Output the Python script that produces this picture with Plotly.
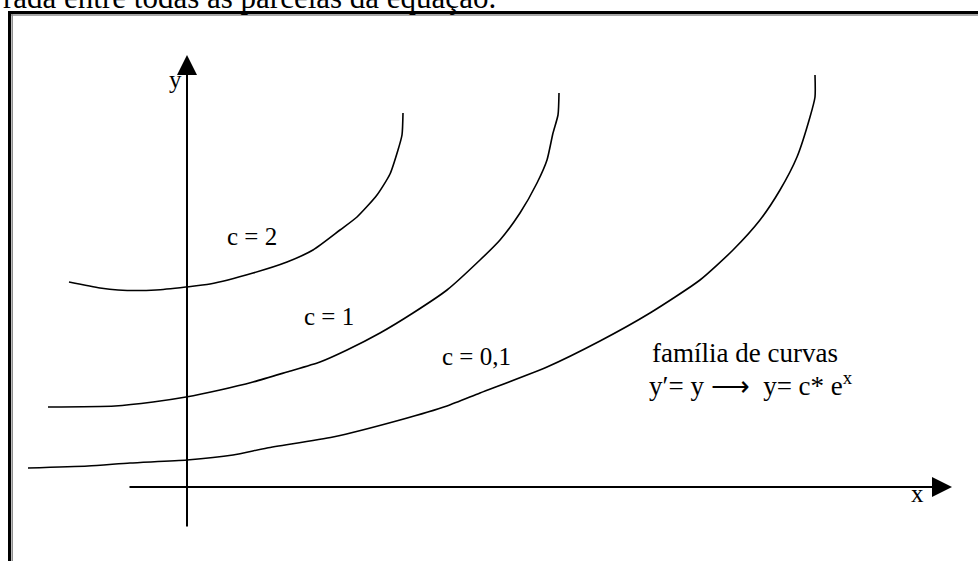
import plotly.graph_objects as go

# ---- data (math units; origin at the axes crossing) ----
c2_x = [-2.36, -1.74, -1.38, -0.62, -0.02, 0.46, 1.32, 2.00, 2.52, 3.06, 3.40, 3.80, 4.06, 4.22, 4.30, 4.32]
c2_y = [4.10, 3.98, 3.94, 3.94, 4.00, 4.06, 4.28, 4.50, 4.74, 5.14, 5.40, 5.84, 6.26, 6.74, 7.04, 7.48]

c1_x = [-2.78, -1.44, -0.68, -0.02, 0.66, 1.32, 2.00, 2.66, 3.20, 3.86, 4.52, 5.20, 5.86, 6.26, 6.66, 7.00, 7.20, 7.32, 7.42, 7.44]
c1_y = [1.60, 1.62, 1.70, 1.80, 1.94, 2.10, 2.30, 2.50, 2.74, 3.08, 3.48, 3.94, 4.54, 4.94, 5.48, 6.08, 6.54, 7.08, 7.44, 7.88]

c01_x = [-3.18, -1.98, -1.14, 0.00, 0.92, 1.60, 2.92, 4.26, 5.20, 5.86, 7.20, 8.26, 9.26, 10.26, 10.92, 11.46, 11.86, 12.20, 12.46, 12.56, 12.56]
c01_y = [0.38, 0.42, 0.48, 0.54, 0.64, 0.78, 1.00, 1.34, 1.62, 1.88, 2.40, 2.92, 3.48, 4.14, 4.74, 5.34, 5.94, 6.60, 7.40, 7.80, 8.24]

x_axis_span = [-1.18, 15.30]   # start, arrow tip
y_axis_span = [-0.82, 8.64]    # start, arrow tip

curve_labels = ["c = 2", "c = 1", "c = 0,1"]
label_x = [1.30, 2.83, 5.79]
label_y = [5.01, 3.41, 2.62]

caption_lines = ["família de curvas", "y′= y ⟶  y= c* e<sup>x</sup>"]
caption_x = [9.26, 9.20]
caption_y = [2.344, 1.68]

top_text = "rada entre todas as parcelas da equação."

# ---- layout geometry ----
W, H = 978, 561
OX, OY, UNIT = 187, 487, 50.0

def px_x(p):
    return p / W

def px_y(p):
    return 1 - p / H

SERIF = "Liberation Serif, Times New Roman, serif"

fig = go.Figure()
for xs, ys in [(c2_x, c2_y), (c1_x, c1_y), (c01_x, c01_y)]:
    fig.add_trace(go.Scatter(x=xs, y=ys, mode="lines",
                             line=dict(color="black", width=1.6, shape="spline", smoothing=0.6),
                             hoverinfo="skip", showlegend=False))

annotations = []
# axes with arrowheads
annotations.append(dict(x=x_axis_span[1], y=0, ax=x_axis_span[0], ay=0, xref="x", yref="y",
                        axref="x", ayref="y", text="", showarrow=True, arrowhead=2,
                        arrowsize=2, arrowwidth=2, arrowcolor="black", standoff=0))
annotations.append(dict(x=0, y=y_axis_span[1], ax=0, ay=y_axis_span[0], xref="x", yref="y",
                        axref="x", ayref="y", text="", showarrow=True, arrowhead=2,
                        arrowsize=2, arrowwidth=2, arrowcolor="black", standoff=0))
# axis letters
annotations.append(dict(x=-0.24, y=8.16, xref="x", yref="y", text="y", showarrow=False,
                        font=dict(family=SERIF, size=25, color="black"), xanchor="center", yanchor="middle"))
annotations.append(dict(x=14.61, y=-0.13, xref="x", yref="y", text="x", showarrow=False,
                        font=dict(family=SERIF, size=25, color="black"), xanchor="center", yanchor="middle"))
for t, lx, ly in zip(curve_labels, label_x, label_y):
    annotations.append(dict(x=lx, y=ly, xref="x", yref="y", text=t, showarrow=False,
                            font=dict(family=SERIF, size=25, color="black"),
                            xanchor="center", yanchor="middle"))
for t, lx, ly in zip(caption_lines, caption_x, caption_y):
    annotations.append(dict(x=lx, y=ly, xref="x", yref="y", text=t, showarrow=False,
                            font=dict(family=SERIF, size=27, color="black"),
                            xanchor="left", yanchor="bottom"))
# cut-off sentence above the frame
annotations.append(dict(x=px_x(498), y=px_y(17.3), xref="paper", yref="paper", text=top_text,
                        showarrow=False, font=dict(family=SERIF, size=31, color="black"),
                        xanchor="right", yanchor="bottom"))

shapes = [
    # frame: dark outer line + grey inner line (top and left)
    dict(type="line", xref="paper", yref="paper", x0=px_x(8), x1=px_x(W + 5), y0=px_y(12.5), y1=px_y(12.5),
         line=dict(color="black", width=3)),
    dict(type="line", xref="paper", yref="paper", x0=px_x(11), x1=px_x(W + 5), y0=px_y(15), y1=px_y(15),
         line=dict(color="#8a8a8a", width=1.5)),
    dict(type="line", xref="paper", yref="paper", x0=px_x(9.5), x1=px_x(9.5), y0=px_y(11), y1=px_y(H + 5),
         line=dict(color="black", width=3)),
    dict(type="line", xref="paper", yref="paper", x0=px_x(12.2), x1=px_x(12.2), y0=px_y(14), y1=px_y(H + 5),
         line=dict(color="#8a8a8a", width=1.5)),
]

fig.update_layout(
    width=W, height=H,
    margin=dict(l=0, r=0, t=0, b=0),
    paper_bgcolor="white", plot_bgcolor="white",
    xaxis=dict(range=[-OX / UNIT, (W - OX) / UNIT], visible=False, fixedrange=True),
    yaxis=dict(range=[-(H - OY) / UNIT, OY / UNIT], visible=False, fixedrange=True),
    annotations=annotations,
    shapes=shapes,
    showlegend=False,
)

fig.write_html("out.html", config=dict(displayModeBar=False),
               post_script="document.body.style.margin='0';document.body.style.overflow='hidden';")
